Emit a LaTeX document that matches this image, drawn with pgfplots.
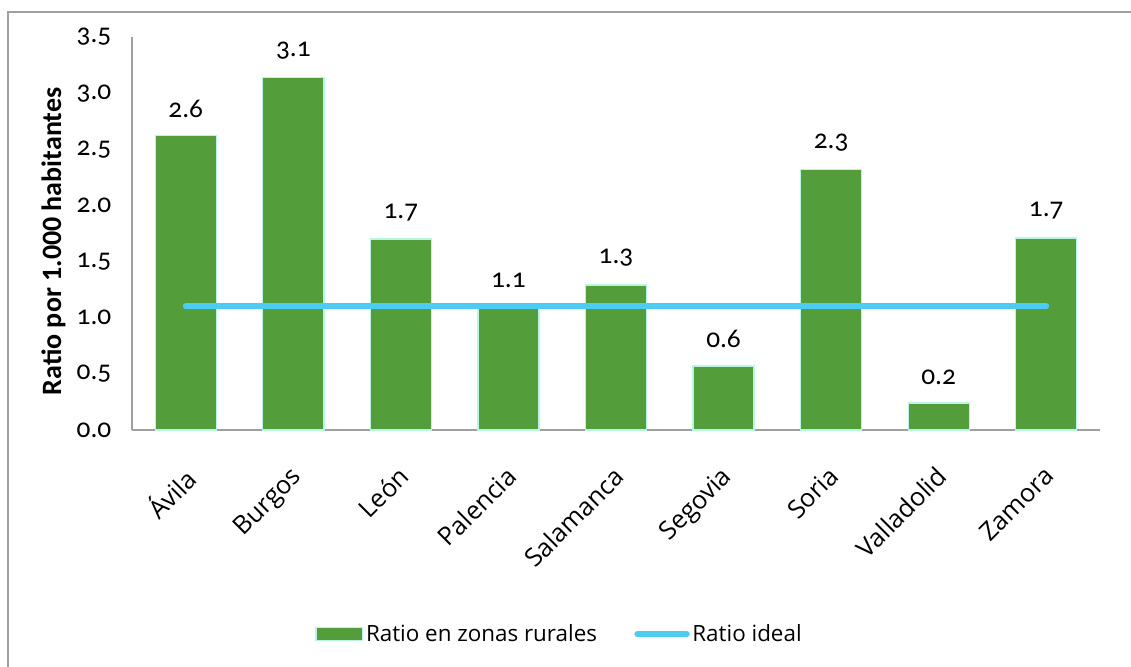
\documentclass[border=0pt]{standalone}
\usepackage{pgfplots}
\pgfplotsset{compat=1.18}
\usepackage{pgfplotstable}
\usepackage{fontspec}
\setmainfont{Open Sans}
\newfontfamily\numfont[Numbers=OldStyle]{Carlito}
\newfontfamily\labfont{Carlito}

\definecolor{barfill}{RGB}{83,158,58}
\definecolor{baredge}{RGB}{185,245,228}
\definecolor{ideal}{RGB}{76,204,245}
\definecolor{axgray}{RGB}{160,160,160}

\pgfplotsset{
    barlegend/.style={legend image code/.code={\draw[##1] (0pt,-5pt) rectangle (35pt,5pt);}},
    linelegend/.style={legend image code/.code={\draw[##1] (0pt,0pt) -- (37pt,0pt);}},
}

% ratio por 1.000 habitantes en zonas rurales
\pgfplotstableread{
x val name
0 2.62 Ávila
1 3.14 Burgos
2 1.70 León
3 1.10 Palencia
4 1.29 Salamanca
5 0.57 Segovia
6 2.32 Soria
7 0.24 Valladolid
8 1.71 Zamora
}\rural

\begin{document}
\begin{tikzpicture}
\useasboundingbox (0pt,0pt) rectangle (848.25pt,-500.25pt);
\draw[axgray, line width=1.1pt] (6pt,-510pt) -- (6pt,-9pt) -- (860pt,-9pt);
\begin{axis}[
    at={(99pt,-322.5pt)}, anchor=south west,
    width=726pt, height=294.75pt, scale only axis,
    xmin=-0.5, xmax=8.5, ymin=0, ymax=3.5,
    axis x line=bottom, axis y line=left,
    axis line style={axgray, line width=1pt, -},
    major tick length=0pt,
    xtick=data,
    xticklabels from table={\rural}{name},
    xticklabel style={font=\fontsize{19}{22}\selectfont, rotate=45, anchor=north east, yshift=-13pt, xshift=-17pt},
    ytick={0,0.5,...,3.5},
    yticklabel style={font=\fontsize{20.5}{24}\selectfont\numfont, anchor=east, xshift=-12pt},
    /pgf/number format/.cd, fixed, precision=1, fixed zerofill, assume math mode=true,
    /pgfplots/.cd,
    ylabel={Ratio por 1.000 habitantes},
    ylabel style={font=\fontsize{21}{24}\selectfont\labfont\bfseries, at={(axis description cs:-0.081,0.48)}, anchor=center},
    clip=false,
    legend columns=2,
    legend style={draw=none, at={(axis description cs:0.442,-0.519)}, anchor=center,
        font=\fontsize{16.8}{19}\selectfont,
        /tikz/every even column/.append style={column sep=26pt}},
    legend cell align=left,
]
\addplot[ybar, bar width=45.75pt, fill=barfill, draw=baredge, line width=1pt,
    nodes near coords={\pgfmathprintnumber[fixed,precision=1,fixed zerofill,assume math mode=true]{\pgfplotspointmeta}},
    every node near coord/.append style={font=\fontsize{20.5}{24}\selectfont\numfont, black, anchor=south, yshift=10pt},
    barlegend]
    table[x=x, y=val] {\rural};
\addlegendentry{Ratio en zonas rurales}
\addplot[ideal, line width=4.5pt, line cap=round, linelegend]
    coordinates {(0,1.1) (8,1.1)};
\addlegendentry{Ratio ideal}
\end{axis}
\end{tikzpicture}
\end{document}
